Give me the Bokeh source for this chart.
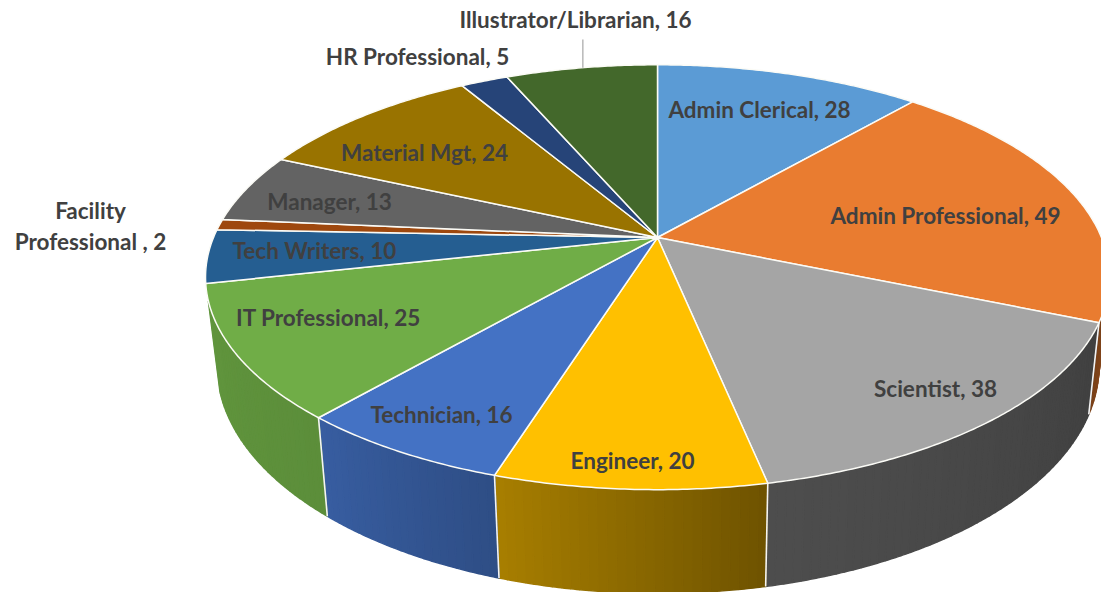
import math
from bokeh.plotting import figure
from bokeh.models import ColumnDataSource, Range1d
from bokeh.core.properties import value
from bokeh.embed import file_html
from bokeh.resources import INLINE

# ---- data (clockwise from 12 o'clock)
categories = ["Admin Clerical", "Admin Professional", "Scientist", "Engineer", "Technician",
              "IT Professional", "Tech Writers", "Facility Professional", "Manager",
              "Material Mgt", "HR Professional", "Illustrator/Librarian"]
counts = [28, 49, 38, 20, 16, 25, 10, 2, 13, 24, 5, 16]

# ---- styles
top_colors = ["#5B9BD5", "#E97C30", "#A5A5A5", "#FFC000", "#4472C4", "#70AD47",
              "#255E91", "#9E480E", "#636363", "#997300", "#264478", "#43682B"]
side_shade = {1: (0.60, 0.52), 2: (0.39, 0.47), 3: (0.43, 0.66), 4: (0.68, 0.82), 5: (0.82, 0.86)}

# ---- 3-D projection of the disc
CX, CY, RX, RY, K = 657.0, 237.0, 444.0, 205.0, 0.187
SIDE_FROM, SIDE_TO = 100.0, 253.0


def top(theta, r=1.0):
    t = math.radians(theta)
    u, v = r * math.sin(t), r * math.cos(t)
    s = 1.0 / (1.0 + K * v)
    return CX + RX * u * s, CY - RY * v * s


def bottom(theta):
    x, y = top(theta)
    return x + (680.0 - x) * 0.0244, y + 91.5 + 0.072 * (y - 320.0)


def shade(hex_color, f):
    rgb = [int(hex_color[i:i + 2], 16) for i in (1, 3, 5)]
    return "#%02x%02x%02x" % tuple(int(round(c * f)) for c in rgb)


total = sum(counts)
edges = [0.0]
for c in counts:
    edges.append(edges[-1] + c / total * 360.0)

# side strips
sx, sy, sc = [], [], []
for i, (a, b) in enumerate(zip(edges[:-1], edges[1:])):
    lo, hi = max(a, SIDE_FROM), min(b, SIDE_TO)
    if hi <= lo or i not in side_shade:
        continue
    f0, f1 = side_shade[i]
    n = max(2, int((hi - lo) / 1.0))
    for j in range(n):
        t0 = lo + (hi - lo) * j / n
        t1 = lo + (hi - lo) * (j + 1) / n
        xs = [top(t0 + (t1 - t0) * m / 3) for m in range(4)]
        bs = [bottom(t1 - (t1 - t0) * m / 3) for m in range(4)]
        sx.append([q[0] for q in xs + bs])
        sy.append([q[1] for q in xs + bs])
        sc.append(shade(top_colors[i], f0 + (f1 - f0) * (j + 0.5) / n))

# top wedges
wx, wy = [], []
for a, b in zip(edges[:-1], edges[1:]):
    n = max(4, int((b - a) / 0.5))
    pts = [top(a + (b - a) * j / n) for j in range(n + 1)]
    wx.append([CX] + [p[0] for p in pts])
    wy.append([CY] + [p[1] for p in pts])

# white separators on the side wall
vx, vy = [], []
for e in edges[2:6]:
    p, q = top(e), bottom(e)
    vx.append([p[0], q[0]])
    vy.append([p[1], q[1]])

# ---- labels
label_text = ["Admin Clerical, 28", "Admin Professional, 49", "Scientist, 38", "Engineer, 20",
              "Technician, 16", "IT Professional, 25", "Tech Writers, 10", "Facility",
              "Professional , 2", "Manager, 13", "Material Mgt, 24", "HR Professional, 5",
              "Illustrator/Librarian, 16"]
label_x = [759, 945, 935, 632, 441, 328, 314, 90, 90, 329, 424, 417, 575]
label_y = [109, 215, 388, 460, 414, 317, 250, 210, 241, 201, 152, 56, 19]

p = figure(width=1101, height=592, x_range=Range1d(0, 1101), y_range=Range1d(592, 0),
           output_backend="svg", toolbar_location=None, min_border=0,
           background_fill_color="white", border_fill_color="white", outline_line_color=None,
           margin=(0, 0, 0, 0))
p.axis.visible = False
p.grid.visible = False

p.patches("x", "y", source=ColumnDataSource(dict(x=sx, y=sy, c=sc)),
          fill_color="c", line_color="c", line_width=1.5)
p.multi_line(vx, vy, line_color="#f4f4f4", line_width=1.6)
p.patches("x", "y", source=ColumnDataSource(dict(x=wx, y=wy, c=top_colors)),
          fill_color="c", line_color="#fbfbf6", line_width=1.5, line_join="round")
# leader line for the Illustrator label
lx, ly = top(edges[-2] + (edges[-1] - edges[-2]) * 0.51)
p.segment(lx, ly, lx, 39, line_color="#a6a6a6", line_width=1.2)
p.text("x", "y", text="t", source=ColumnDataSource(dict(x=label_x, y=label_y, t=label_text)),
       text_font=value("Lato"), text_font_style="bold", text_font_size="22.5px",
       text_color="#404040", text_align="center", text_baseline="middle")

open("out.html", "w").write(file_html(p, INLINE))
